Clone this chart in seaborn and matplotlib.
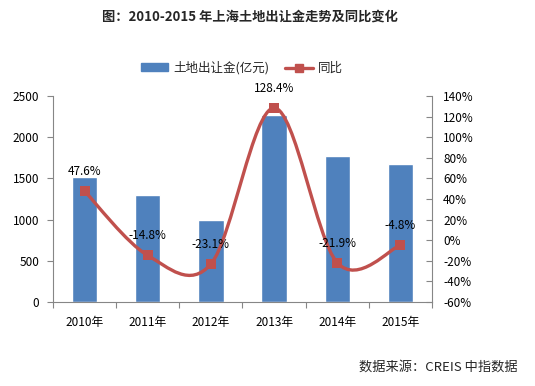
import numpy as np
import pandas as pd
import matplotlib
matplotlib.use('Agg')
import matplotlib.pyplot as plt
from matplotlib.path import Path
from matplotlib.patches import PathPatch, Patch
from matplotlib.lines import Line2D
import seaborn as sns

# data
years = ['2010年', '2011年', '2012年', '2013年', '2014年', '2015年']
revenue = [1521, 1296, 997, 2268, 1768, 1680]   # 亿元
yoy = [47.6, -14.8, -23.1, 128.4, -21.9, -4.8]   # %

BLUE = '#4F81BD'
RED = '#C0504D'
GREY = '#868686'
FS = 8.5

sns.set_theme(style='white')
plt.rcParams['font.family'] = ['Noto Sans CJK SC', 'DejaVu Sans']
plt.rcParams['axes.unicode_minus'] = False

fig = plt.figure(figsize=(5.35, 3.86), dpi=100)
ax = fig.add_axes([53 / 535, 1 - 302 / 386, (432 - 53) / 535, (302 - 96) / 386])

df = pd.DataFrame({'year': years, 'revenue': revenue})
sns.barplot(data=df, x='year', y='revenue', color=BLUE, width=0.4,
            saturation=1, ax=ax)
ax.set_xlim(-0.5, 5.5)
ax.set_ylim(0, 2500)
ax.set_yticks(range(0, 2501, 500))
ax.set_xlabel('')
ax.set_ylabel('')

ax2 = ax.twinx()
x = np.arange(len(yoy))

# smooth line like Excel (Catmull-Rom style bezier through the points)
pts = np.column_stack([x, yoy]).astype(float)
ext = np.vstack([pts[0], pts, pts[-1]])
verts = [tuple(pts[0])]
codes = [Path.MOVETO]
for i in range(len(pts) - 1):
    p0, p1, p2, p3 = ext[i], ext[i + 1], ext[i + 2], ext[i + 3]
    c1 = p1 + (p2 - p0) / 6
    c2 = p2 - (p3 - p1) / 6
    verts += [tuple(c1), tuple(c2), tuple(p2)]
    codes += [Path.CURVE4] * 3
ax2.add_patch(PathPatch(Path(verts, codes), facecolor='none', edgecolor=RED,
                        lw=2.4, zorder=3))
sns.scatterplot(x=x, y=yoy, marker='s', s=42, color=RED, edgecolor=RED,
                linewidth=0, ax=ax2, zorder=4)

for xi, v in zip(x, yoy):
    ax2.annotate(f'{v}%', (xi, v), xytext=(0, 14), textcoords='offset points',
                 ha='center', va='center', fontsize=FS, color='black')

ax2.set_xlim(-0.5, 5.5)
ax2.set_ylim(-60, 140)
ax2.set_yticks(range(-60, 141, 20))
ax2.set_yticklabels([f'{t}%' for t in range(-60, 141, 20)])

# spines and ticks
for a in (ax, ax2):
    a.spines['top'].set_visible(False)
    for s in ('left', 'right', 'bottom'):
        a.spines[s].set_color(GREY)
        a.spines[s].set_linewidth(0.8)
ax.spines['right'].set_visible(False)
ax2.spines['left'].set_visible(False)
ax2.spines['bottom'].set_visible(False)

ax.tick_params(axis='y', direction='out', length=4, width=0.8, color=GREY,
               labelsize=FS, pad=6, left=True)
ax2.tick_params(axis='y', direction='in', length=4, width=0.8, color=GREY,
                labelsize=FS, pad=8, right=True)
ax.tick_params(axis='x', which='major', length=0, labelsize=FS, pad=10)
ax.set_xticks(np.arange(-0.5, 6, 1), minor=True)
ax.tick_params(axis='x', which='minor', direction='out', length=4, width=0.8,
               color=GREY, bottom=True)
for lab in ax.get_xticklabels() + ax.get_yticklabels() + ax2.get_yticklabels():
    lab.set_color('black')

# legend
handles = [Patch(facecolor=BLUE, edgecolor=BLUE),
           Line2D([0], [0], color=RED, lw=2.4, marker='s', markersize=6)]
fig.legend(handles, ['土地出让金(亿元)', '同比'], loc='center',
           bbox_to_anchor=(0.452, 1 - 68 / 386), ncol=2, frameon=False,
           fontsize=9, handlelength=2.2, handleheight=0.6, columnspacing=1.3,
           handletextpad=0.4)

fig.text(0.467, 1 - 17 / 386, '图：2010-2015 年上海土地出让金走势及同比变化',
         ha='center', va='center', fontsize=9.5, fontweight='bold')
fig.text(0.968, 1 - 367 / 386, '数据来源：CREIS 中指数据', ha='right',
         va='center', fontsize=9.5)

fig.savefig('out.png', dpi=100, facecolor='white')
